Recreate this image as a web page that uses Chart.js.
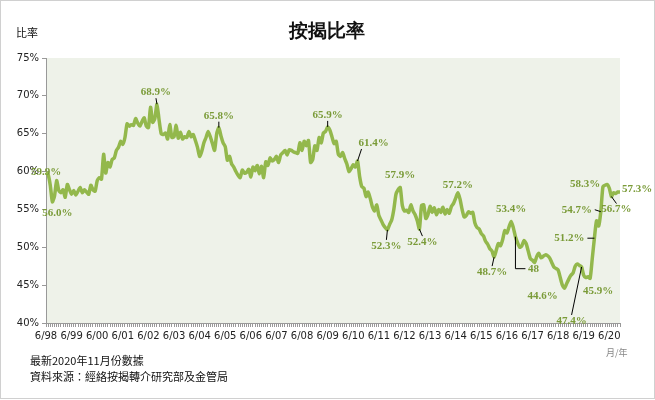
<!DOCTYPE html>
<html><head><meta charset="utf-8">
<script src="https://cdn.jsdelivr.net/npm/chart.js@4"></script>
<style>body{margin:0;background:#fff}#wrap{width:655px;height:400px;position:relative}</style>
</head><body><div id="wrap"><canvas id="c" width="655" height="400"></canvas></div>
<script>
// monthly mortgage ratio (%), 6/1998 - 11/2020
const y1998 = [59.9, 59.6, 58.2, 56.0, 56.8, 58.8, 57.5];
const y1999 = [57.2, 57.6, 56.6, 58.3, 57.6, 57.0, 57.5, 56.9, 57.4, 57.9, 57.2, 57.6];
const y2000 = [57.3, 57.0, 58.2, 57.6, 57.4, 58.8, 59.2, 59.0, 62.3, 59.8, 61.2, 60.6];
const y2001 = [61.6, 61.8, 62.8, 63.2, 64.0, 63.6, 64.5, 66.3, 66.0, 66.2, 66.1, 67.0];
const y2002 = [66.4, 66.0, 66.6, 67.1, 66.0, 65.8, 68.5, 66.5, 67.0, 68.9, 66.8, 65.0];
const y2003 = [64.9, 65.1, 64.3, 66.2, 64.5, 64.6, 66.1, 64.4, 65.2, 64.3, 64.6, 64.5];
const y2004 = [65.3, 64.6, 64.9, 64.1, 63.2, 62.0, 62.7, 63.8, 64.5, 65.3, 64.6, 63.7];
const y2005 = [62.8, 65.0, 65.8, 64.7, 63.8, 63.3, 61.5, 62.0, 61.0, 60.6, 60.0, 59.5];
const y2006 = [59.2, 60.2, 59.8, 59.9, 60.3, 59.3, 60.6, 60.1, 60.8, 59.7, 60.7, 59.2];
const y2007 = [61.3, 60.8, 61.8, 61.4, 61.6, 62.0, 61.2, 62.2, 62.5, 62.8, 62.2, 62.9];
const y2008 = [62.8, 62.6, 62.5, 62.4, 63.8, 62.8, 64.0, 63.4, 64.1, 61.2, 61.6, 63.4];
const y2009 = [62.8, 64.5, 63.8, 65.1, 65.3, 65.9, 65.5, 64.6, 63.7, 64.0, 62.3, 62.0];
const y2010 = [62.5, 61.7, 61.0, 60.0, 60.4, 60.9, 60.6, 61.4, 59.3, 58.0, 57.8, 56.7];
const y2011 = [57.3, 56.4, 55.3, 54.8, 55.6, 54.2, 53.6, 53.0, 52.6, 52.3, 53.0, 53.6];
const y2012 = [55.0, 57.0, 57.6, 57.9, 55.5, 54.8, 54.9, 54.6, 55.6, 54.8, 54.3, 53.5];
const y2013 = [52.4, 55.5, 55.6, 53.8, 54.3, 55.4, 54.6, 55.2, 54.3, 55.0, 54.6, 55.3];
const y2014 = [54.4, 55.0, 54.5, 55.4, 55.8, 56.5, 57.2, 56.4, 55.0, 54.0, 54.2, 54.7];
const y2015 = [54.5, 54.6, 53.2, 52.6, 52.4, 51.8, 51.5, 50.8, 50.4, 49.8, 49.5, 48.7];
const y2016 = [49.6, 50.5, 50.2, 51.0, 52.2, 51.9, 52.7, 53.4, 52.6, 51.4, 50.6, 50.0];
const y2017 = [50.2, 50.9, 50.5, 49.5, 48.5, 48.3, 48.0, 48.8, 49.2, 48.6, 48.8, 49.0];
const y2018 = [48.9, 48.6, 48.0, 47.4, 47.2, 47.0, 46.0, 45.0, 44.6, 45.2, 45.8, 46.3];
const y2019 = [46.6, 47.5, 47.8, 47.6, 47.4, 46.3, 46.0, 46.1, 45.9, 48.5, 51.2, 53.5];
const y2020 = [52.8, 54.7, 58.0, 58.2, 58.3, 57.8, 56.7, 57.2, 57.1, 57.3, 57.3];

const ratio = [].concat(y1998, y1999, y2000, y2001, y2002, y2003, y2004, y2005, y2006, y2007,
  y2008, y2009, y2010, y2011, y2012, y2013, y2014, y2015, y2016, y2017, y2018, y2019, y2020);

const months = [];
for (let i = 0; i < ratio.length; i++) {
  const m = (5 + i) % 12 + 1, yr = 1998 + Math.floor((5 + i) / 12);
  months.push(m + '/' + String(yr % 100).padStart(2, '0'));
}
const yTicks = [40, 45, 50, 55, 60, 65, 70, 75];

// labelled points: index, text, text offset, leader type
const notes = [
  {i: 0, t: '59.9%', dx: 0, dy: 0},
  {i: 3, t: '56.0%', dx: 5, dy: 11},
  {i: 52, t: '68.9%', dx: -1, dy: -12, line: 1},
  {i: 81, t: '65.8%', dx: 0, dy: -12, line: 1},
  {i: 132, t: '65.9%', dx: 0, dy: -12, line: 1},
  {i: 146, t: '61.4%', dx: 16, dy: -18, line: 1},
  {i: 166, t: '57.9%', dx: 0, dy: -12},
  {i: 193, t: '57.2%', dx: 0, dy: -8},
  {i: 160, t: '52.3%', dx: -1, dy: 16, line: 1},
  {i: 175, t: '52.4%', dx: 3, dy: 13, line: 1},
  {i: 210, t: '48.7%', dx: -2, dy: 15, line: 1},
  {i: 218, t: '53.4%', dx: 0, dy: -12},
  {i: 220, t: '48', dx: 18, dy: 32, elbow: 1},
  {i: 243, t: '44.6%', dx: -22, dy: 8},
  {i: 251, t: '47.4%', dx: -10, dy: 54, line: 1},
  {i: 255, t: '45.9%', dx: 8, dy: 13},
  {i: 257, t: '51.2%', dx: -25, dy: 0, elbow: 2},
  {i: 260, t: '54.7%', dx: -24, dy: -2, elbow: 2},
  {i: 263, t: '58.3%', dx: -22, dy: 0},
  {i: 265, t: '56.7%', dx: 5, dy: 13, line: 1},
  {i: 269, t: '57.3%', dx: 17, dy: -3}
];

const deco = {
  id: 'deco',
  beforeDraw(chart) {
    const {ctx, chartArea: a} = chart;
    ctx.save();
    ctx.fillStyle = '#eef2e9';
    ctx.fillRect(a.left, a.top, a.right - a.left, a.bottom - a.top);
    ctx.restore();
  },
  afterDraw(chart) {
    const {ctx, scales: {x, y}} = chart;
    ctx.save();
    ctx.font = 'bold 11px "Liberation Serif"';
    ctx.textAlign = 'center';
    ctx.textBaseline = 'middle';
    notes.forEach(n => {
      const px = x.getPixelForValue(n.i), py = y.getPixelForValue(ratio[n.i]);
      const tx = px + n.dx, ty = py + n.dy;
      ctx.strokeStyle = '#000';
      ctx.lineWidth = 1;
      if (n.line) {
        ctx.beginPath(); ctx.moveTo(px, py);
        ctx.lineTo(tx + (n.dx > 10 ? -12 : 0), ty + (n.dy > 0 ? -6 : 6)); ctx.stroke();
      }
      if (n.elbow === 1) {
        ctx.beginPath(); ctx.moveTo(px, py); ctx.lineTo(px, ty); ctx.lineTo(tx - 8, ty); ctx.stroke();
      }
      if (n.elbow === 2) {
        ctx.beginPath(); ctx.moveTo(px, py); ctx.lineTo(tx + 18, ty); ctx.stroke();
      }
      ctx.fillStyle = '#7a9b38';
      ctx.fillText(n.t, tx, ty);
    });
    // texts
    ctx.fillStyle = '#111';
    ctx.font = 'bold 19px "Liberation Serif"';
    ctx.fillText('按揭比率', 327, 32);
    ctx.font = '11px "Noto Sans CJK TC"';
    ctx.fillText('比率', 27, 33);
    ctx.textAlign = 'left';
    ctx.fillText('最新2020年11月份數據', 30, 361);
    ctx.fillText('資料來源：經絡按揭轉介研究部及金管局', 30, 377);
    ctx.fillStyle = '#888';
    ctx.font = '9px "Noto Sans CJK TC"';
    ctx.fillText('月/年', 606, 353);
    ctx.strokeStyle = '#d0d0d0';
    ctx.strokeRect(0.5, 0.5, 654, 398);
    ctx.restore();
  }
};

new Chart(document.getElementById('c'), {
  type: 'line',
  data: {
    labels: months,
    datasets: [{
      data: ratio,
      borderColor: '#93b84c',
      borderWidth: 3.5,
      pointRadius: 0,
      tension: 0.2
    }]
  },
  options: {
    responsive: false,
    animation: false,
    layout: {padding: {left: 10, top: 58, right: 35, bottom: 47}},
    plugins: {legend: {display: false}, tooltip: {enabled: false}},
    scales: {
      x: {
        afterFit: s => { s.height = 30; },
        grid: {drawOnChartArea: false, tickLength: 4, color: '#999'},
        border: {color: '#999'},
        ticks: {
          autoSkip: false, maxRotation: 0, color: '#222',
          font: {size: 10, family: 'DejaVu Sans'},
          callback: (v, i) => months[i].startsWith('6/') ? months[i] : ''
        }
      },
      y: {
        min: 40, max: 75,
        afterFit: s => { s.width = 36; },
        afterBuildTicks: s => { s.ticks = yTicks.map(v => ({value: v})); },
        grid: {drawOnChartArea: false, tickLength: 4, color: '#999'},
        border: {color: '#999'},
        ticks: {color: '#222', font: {size: 10, family: 'DejaVu Sans'}, callback: v => v + '%'}
      }
    }
  },
  plugins: [deco]
});
</script>
</body></html>
